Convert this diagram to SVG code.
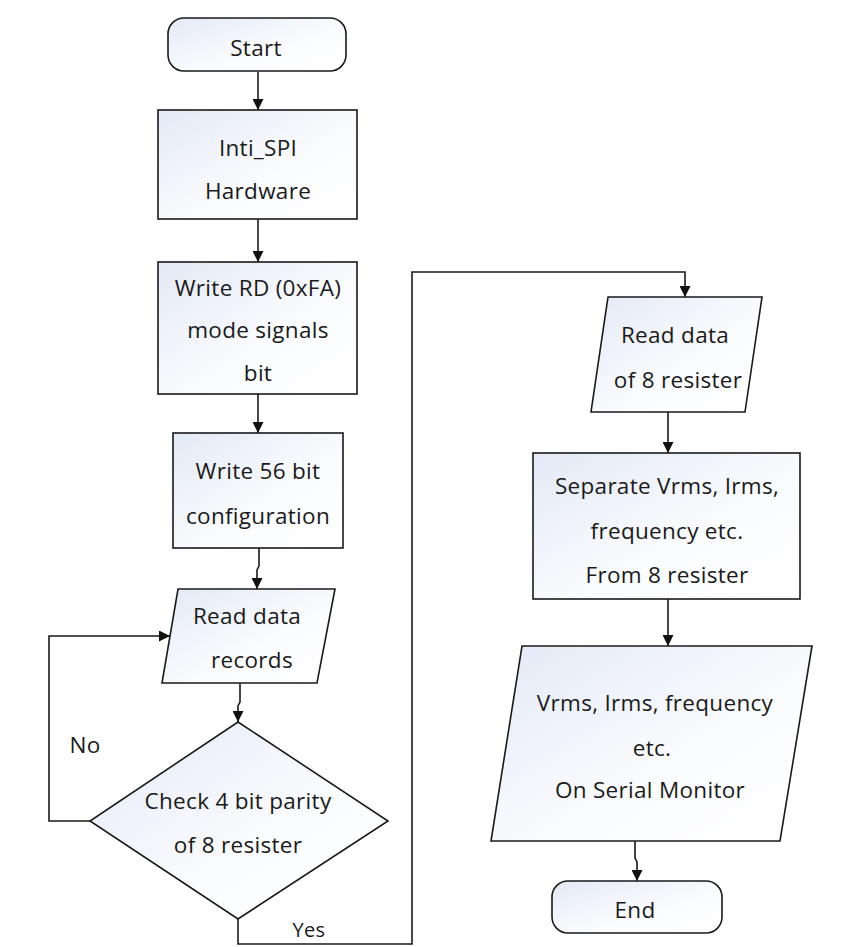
<svg xmlns="http://www.w3.org/2000/svg" width="843" height="947" viewBox="0 0 843 947">
  <defs>
    <linearGradient id="fill" x1="0" y1="0" x2="1" y2="1">
      <stop offset="0" stop-color="#e3e9f6"/>
      <stop offset="0.6" stop-color="#fbfcfe"/>
      <stop offset="1" stop-color="#ffffff"/>
    </linearGradient>
    <marker id="arrow" viewBox="0 0 10 10" refX="10" refY="5" markerWidth="11" markerHeight="11" markerUnits="userSpaceOnUse" orient="auto">
      <path d="M0,0 L10,5 L0,10 z" fill="#111"/>
    </marker>
    <style>
      .shape { fill: url(#fill); stroke: #1a1a1a; stroke-width: 1.6; }
      .label { font-family: "Open Sans", "DejaVu Sans", sans-serif; font-size: 22.5px; letter-spacing: 0.3px; fill: #1a1a1a; text-anchor: middle; }
      .small { font-size: 20px; }
      .edge { fill: none; stroke: #1a1a1a; stroke-width: 1.6; marker-end: url(#arrow); }
    </style>
  </defs>
  <rect width="843" height="947" fill="#ffffff"/>

  <g id="connectors">
    <line class="edge" x1="258" y1="72" x2="258" y2="110"/>
    <line class="edge" x1="258" y1="219" x2="258" y2="262"/>
    <line class="edge" x1="258" y1="394" x2="258" y2="433"/>
    <polyline class="edge" points="259,548 259,566 257,570 257,589"/>
    <polyline class="edge" points="240,683 240,702 238,706 238,722"/>
    <polyline class="edge" points="90,821 49,821 49,636 170,636"/>
    <polyline class="edge" points="238,919 238,944 412,944 412,272 685,272 685,297"/>
    <line class="edge" x1="668" y1="412" x2="668" y2="453"/>
    <line class="edge" x1="668" y1="599" x2="668" y2="646"/>
    <polyline class="edge" points="635,841 635,858 637,862 637,881"/>
    <text class="label" x="85" y="753">No</text>
    <text class="label small" x="309" y="937">Yes</text>
  </g>

  <g id="start">
    <rect class="shape" x="168" y="18" width="178" height="53" rx="16"/>
    <text class="label" x="256" y="56">Start</text>
  </g>

  <g id="init-spi">
    <rect class="shape" x="158" y="110" width="199" height="109"/>
    <text class="label" x="258" y="156">Inti_SPI</text>
    <text class="label" x="258" y="199">Hardware</text>
  </g>

  <g id="write-rd">
    <rect class="shape" x="158" y="262" width="199" height="132"/>
    <text class="label" x="258" y="296">Write RD (0xFA)</text>
    <text class="label" x="258" y="338">mode signals</text>
    <text class="label" x="258" y="381">bit</text>
  </g>

  <g id="write-config">
    <rect class="shape" x="173" y="433" width="170" height="115"/>
    <text class="label" x="258" y="479">Write 56 bit</text>
    <text class="label" x="258" y="524">configuration</text>
  </g>

  <g id="read-records">
    <polygon class="shape" points="178,589 335,589 317,683 162,683"/>
    <text class="label" x="247" y="624">Read data</text>
    <text class="label" x="252" y="668">records</text>
  </g>

  <g id="check-parity">
    <polygon class="shape" points="238,722 388,821 238,919 90,821"/>
    <text class="label" x="238" y="809">Check 4 bit parity</text>
    <text class="label" x="238" y="853">of 8 resister</text>
  </g>

  <g id="read-registers">
    <polygon class="shape" points="608,297 762,297 745,412 591,412"/>
    <text class="label" x="675" y="343">Read data</text>
    <text class="label" x="678" y="388">of 8 resister</text>
  </g>

  <g id="separate">
    <rect class="shape" x="533" y="453" width="267" height="146"/>
    <text class="label" x="667" y="494">Separate Vrms, Irms,</text>
    <text class="label" x="667" y="539">frequency etc.</text>
    <text class="label" x="667" y="583">From 8 resister</text>
  </g>

  <g id="serial-output">
    <polygon class="shape" points="522,646 812,646 780,841 491,841"/>
    <text class="label" x="655" y="711">Vrms, Irms, frequency</text>
    <text class="label" x="652" y="756">etc.</text>
    <text class="label" x="650" y="798">On Serial Monitor</text>
  </g>

  <g id="end">
    <rect class="shape" x="552" y="881" width="170" height="52" rx="16"/>
    <text class="label" x="635" y="918">End</text>
  </g>
</svg>
